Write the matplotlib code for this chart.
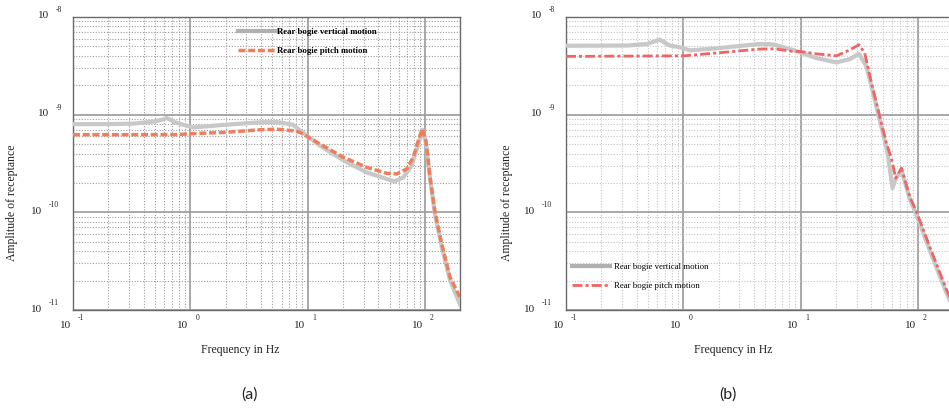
import matplotlib
matplotlib.use("Agg")
import matplotlib.pyplot as plt
from matplotlib.lines import Line2D
from matplotlib.font_manager import FontProperties

# ---------------- data ----------------
# Panel (a)
fa_vert = [0.1, 0.2, 0.33, 0.49, 0.58, 0.63, 0.74, 0.93, 1.06, 2.04, 3.9, 5.45, 7.5,
           8.6, 12.8, 20.2, 32, 47, 55, 65.5, 77, 88, 95, 102, 110.6, 122, 139, 164, 202]
amp_a_vert = [8.0e-10, 8.0e-10, 8.1e-10, 8.5e-10, 8.9e-10, 9.25e-10, 8.35e-10, 7.7e-10,
              7.4e-10, 7.9e-10, 8.35e-10, 8.4e-10, 7.9e-10,
              6.9e-10, 4.8e-10, 3.4e-10, 2.56e-10, 2.2e-10, 2.07e-10, 2.28e-10, 3.0e-10,
              5.0e-10, 7.0e-10, 5.2e-10, 2.2e-10, 9.5e-11, 4.5e-11, 2.0e-11, 1.1e-11]

fa_pitch = [0.1, 0.3, 0.76, 1.06, 2.04, 3.9, 5.45, 7.5, 8.6, 12.8, 20.2, 31.9, 47.2, 57.5,
            70, 79.6, 87.9, 95, 102, 110.6, 122, 139, 164, 202]
amp_a_pitch = [6.24e-10, 6.24e-10, 6.25e-10, 6.4e-10, 6.6e-10, 7.0e-10, 7.1e-10, 6.85e-10,
               6.6e-10, 5.0e-10, 3.66e-10, 2.89e-10, 2.51e-10, 2.47e-10,
               2.78e-10, 3.66e-10, 5.42e-10, 7.13e-10, 5.4e-10, 2.29e-10, 1.0e-10, 4.75e-11,
               2.16e-11, 1.3e-11]

# Panel (b)
fb_vert = [0.1, 0.33, 0.49, 0.63, 0.77, 0.94, 1.14, 2.0, 4.5, 5.8, 8.6, 13.6, 20.2, 26.2,
           31.5, 36.4, 40.2, 47.3, 53.9, 55.6, 60.7, 64.7, 72.4, 85.2, 97, 126, 175, 200]
amp_b_vert = [5.08e-9, 5.1e-9, 5.3e-9, 5.85e-9, 5.1e-9, 4.9e-9, 4.55e-9, 4.8e-9, 5.3e-9,
              5.25e-9, 4.6e-9, 3.8e-9, 3.43e-9, 3.7e-9,
              4.2e-9, 3.12e-9, 1.95e-9, 8.8e-10, 4.6e-10, 3.8e-10, 1.77e-10, 2.2e-10,
              2.7e-10, 1.38e-10, 9.5e-11, 4.1e-11, 1.5e-11, 1.05e-11]

fb_pitch = [0.1, 1.0, 2.0, 4.5, 6.0, 8.6, 9.85, 13.6, 20.2, 26.2, 31.5, 35.2, 40.2, 47.3,
            53.9, 59.4, 64.7, 72.4, 85.2, 97, 126, 175, 200]
amp_b_pitch = [3.95e-9, 4.0e-9, 4.3e-9, 4.7e-9, 4.72e-9, 4.45e-9, 4.44e-9, 4.2e-9, 4.0e-9,
               4.6e-9, 5.2e-9, 4.27e-9, 2.11e-9, 9.6e-10, 5.1e-10, 3.59e-10, 2.24e-10,
               2.84e-10, 1.45e-10, 1.02e-10, 4.46e-11, 1.62e-11, 1.15e-11]

labels = ["Rear bogie vertical motion", "Rear bogie pitch motion"]
x_decades = [-1, 0, 1, 2]
y_decades = [-8, -9, -10, -11]
captions = ["(a)", "(b)"]

# ---------------- figure ----------------
W, H = 949, 408
fig = plt.figure(figsize=(W / 100, H / 100), dpi=100)
SERIF = "Liberation Serif"

def px_rect(left, top, right, bottom):
    return [left / W, 1 - bottom / H, (right - left) / W, (bottom - top) / H]

decade_px = 117.3
axes_specs = [
    dict(left=73, color="#ef7f5c", dash=(0, (2.0, 0.8)), lw_p=2.5,
         fv=fa_vert, av=amp_a_vert, fp=fa_pitch, ap=amp_a_pitch,
         minor_col="#9c9c9c", leg_xy=(238, 41.5), leg_bold=True, leg_pad=0.15,
         xlab_x=240, ylab_x=12, cap_x=250),
    dict(left=566, color="#f06464", dash=(0, (3.6, 1.1, 1.1, 1.1)), lw_p=2.0,
         fv=fb_vert, av=amp_b_vert, fp=fb_pitch, ap=amp_b_pitch,
         minor_col="#c4c4c4", leg_xy=(572, 276.5), leg_bold=False, leg_pad=0.5,
         xlab_x=733, ylab_x=507, cap_x=728),
]

for spec in axes_specs:
    left = spec["left"]
    right = left + 3.301 * decade_px
    ax = fig.add_axes(px_rect(left, 17, right, 310))
    ax.set_xscale("log")
    ax.set_yscale("log")
    ax.set_xlim(0.1, 200)
    ax.set_ylim(1e-11, 1e-8)

    ax.grid(which="major", color="#9a9a9a", lw=1.2, ls="-", zorder=0)
    ax.grid(which="minor", color=spec["minor_col"], lw=0.8, ls=(0, (1, 1.5)), zorder=0)
    ax.tick_params(which="both", length=0, labelbottom=False, labelleft=False)
    for s in ax.spines.values():
        s.set_color("#6a6a6a")
        s.set_linewidth(1.0)

    ax.plot(spec["fv"], spec["av"], color="#c8c8c8", lw=3.0,
            solid_capstyle="round", solid_joinstyle="round", zorder=3)
    ax.plot(spec["fp"], spec["ap"], color=spec["color"], lw=spec["lw_p"],
            ls=spec["dash"], zorder=4)

    # tick labels (10 with raised exponent)
    for d in x_decades:
        ax.annotate("10", xy=(10.0 ** d, 0), xycoords=("data", "axes fraction"),
                    xytext=(-2, -15), textcoords="offset pixels", ha="right", va="center",
                    fontsize=8, family=SERIF, color="#222222", annotation_clip=False)
        ax.annotate(str(d), xy=(10.0 ** d, 0), xycoords=("data", "axes fraction"),
                    xytext=(5, -8), textcoords="offset pixels", ha="left", va="center",
                    fontsize=5.5, family=SERIF, color="#222222", annotation_clip=False)
    for d in y_decades:
        off10 = -24 if d > -10 else -31
        offe = -17 if d > -10 else -24
        ax.annotate("10", xy=(0, 10.0 ** d), xycoords=("axes fraction", "data"),
                    xytext=(off10, 1), textcoords="offset pixels", ha="right", va="center",
                    fontsize=8, family=SERIF, color="#222222", annotation_clip=False)
        ax.annotate(str(d), xy=(0, 10.0 ** d), xycoords=("axes fraction", "data"),
                    xytext=(offe, 7), textcoords="offset pixels", ha="left", va="center",
                    fontsize=5.5, family=SERIF, color="#222222", annotation_clip=False)

    fig.text(spec["xlab_x"] / W, 1 - 350 / H, "Frequency in Hz", ha="center", va="center",
             fontsize=8.5, family=SERIF, color="#222222")
    fig.text(spec["ylab_x"] / W, 1 - 203 / H, "Amplitude of receptance", ha="center",
             va="center", rotation=90, fontsize=8.5, family=SERIF, color="#222222")

    h1 = Line2D([], [], color="#b0b0b0", lw=3.0)
    h2 = Line2D([], [], color=spec["color"], lw=spec["lw_p"], ls=spec["dash"])
    lx, ly = spec["leg_xy"]
    ax.legend([h1, h2], labels, loc="center left",
              bbox_to_anchor=(lx / W, 1 - ly / H), bbox_transform=fig.transFigure,
              frameon=False, handlelength=4.3, handletextpad=spec["leg_pad"],
              labelspacing=1.2, borderpad=0, borderaxespad=0,
              prop=FontProperties(family=SERIF, size=6.3,
                                  weight="bold" if spec["leg_bold"] else "normal"))

for spec, cap in zip(axes_specs, captions):
    fig.text(spec["cap_x"] / W, 1 - 395 / H, cap, ha="center", va="center",
             fontsize=11.5, family="Lato", color="#222222")

fig.savefig("out.png", dpi=100)
